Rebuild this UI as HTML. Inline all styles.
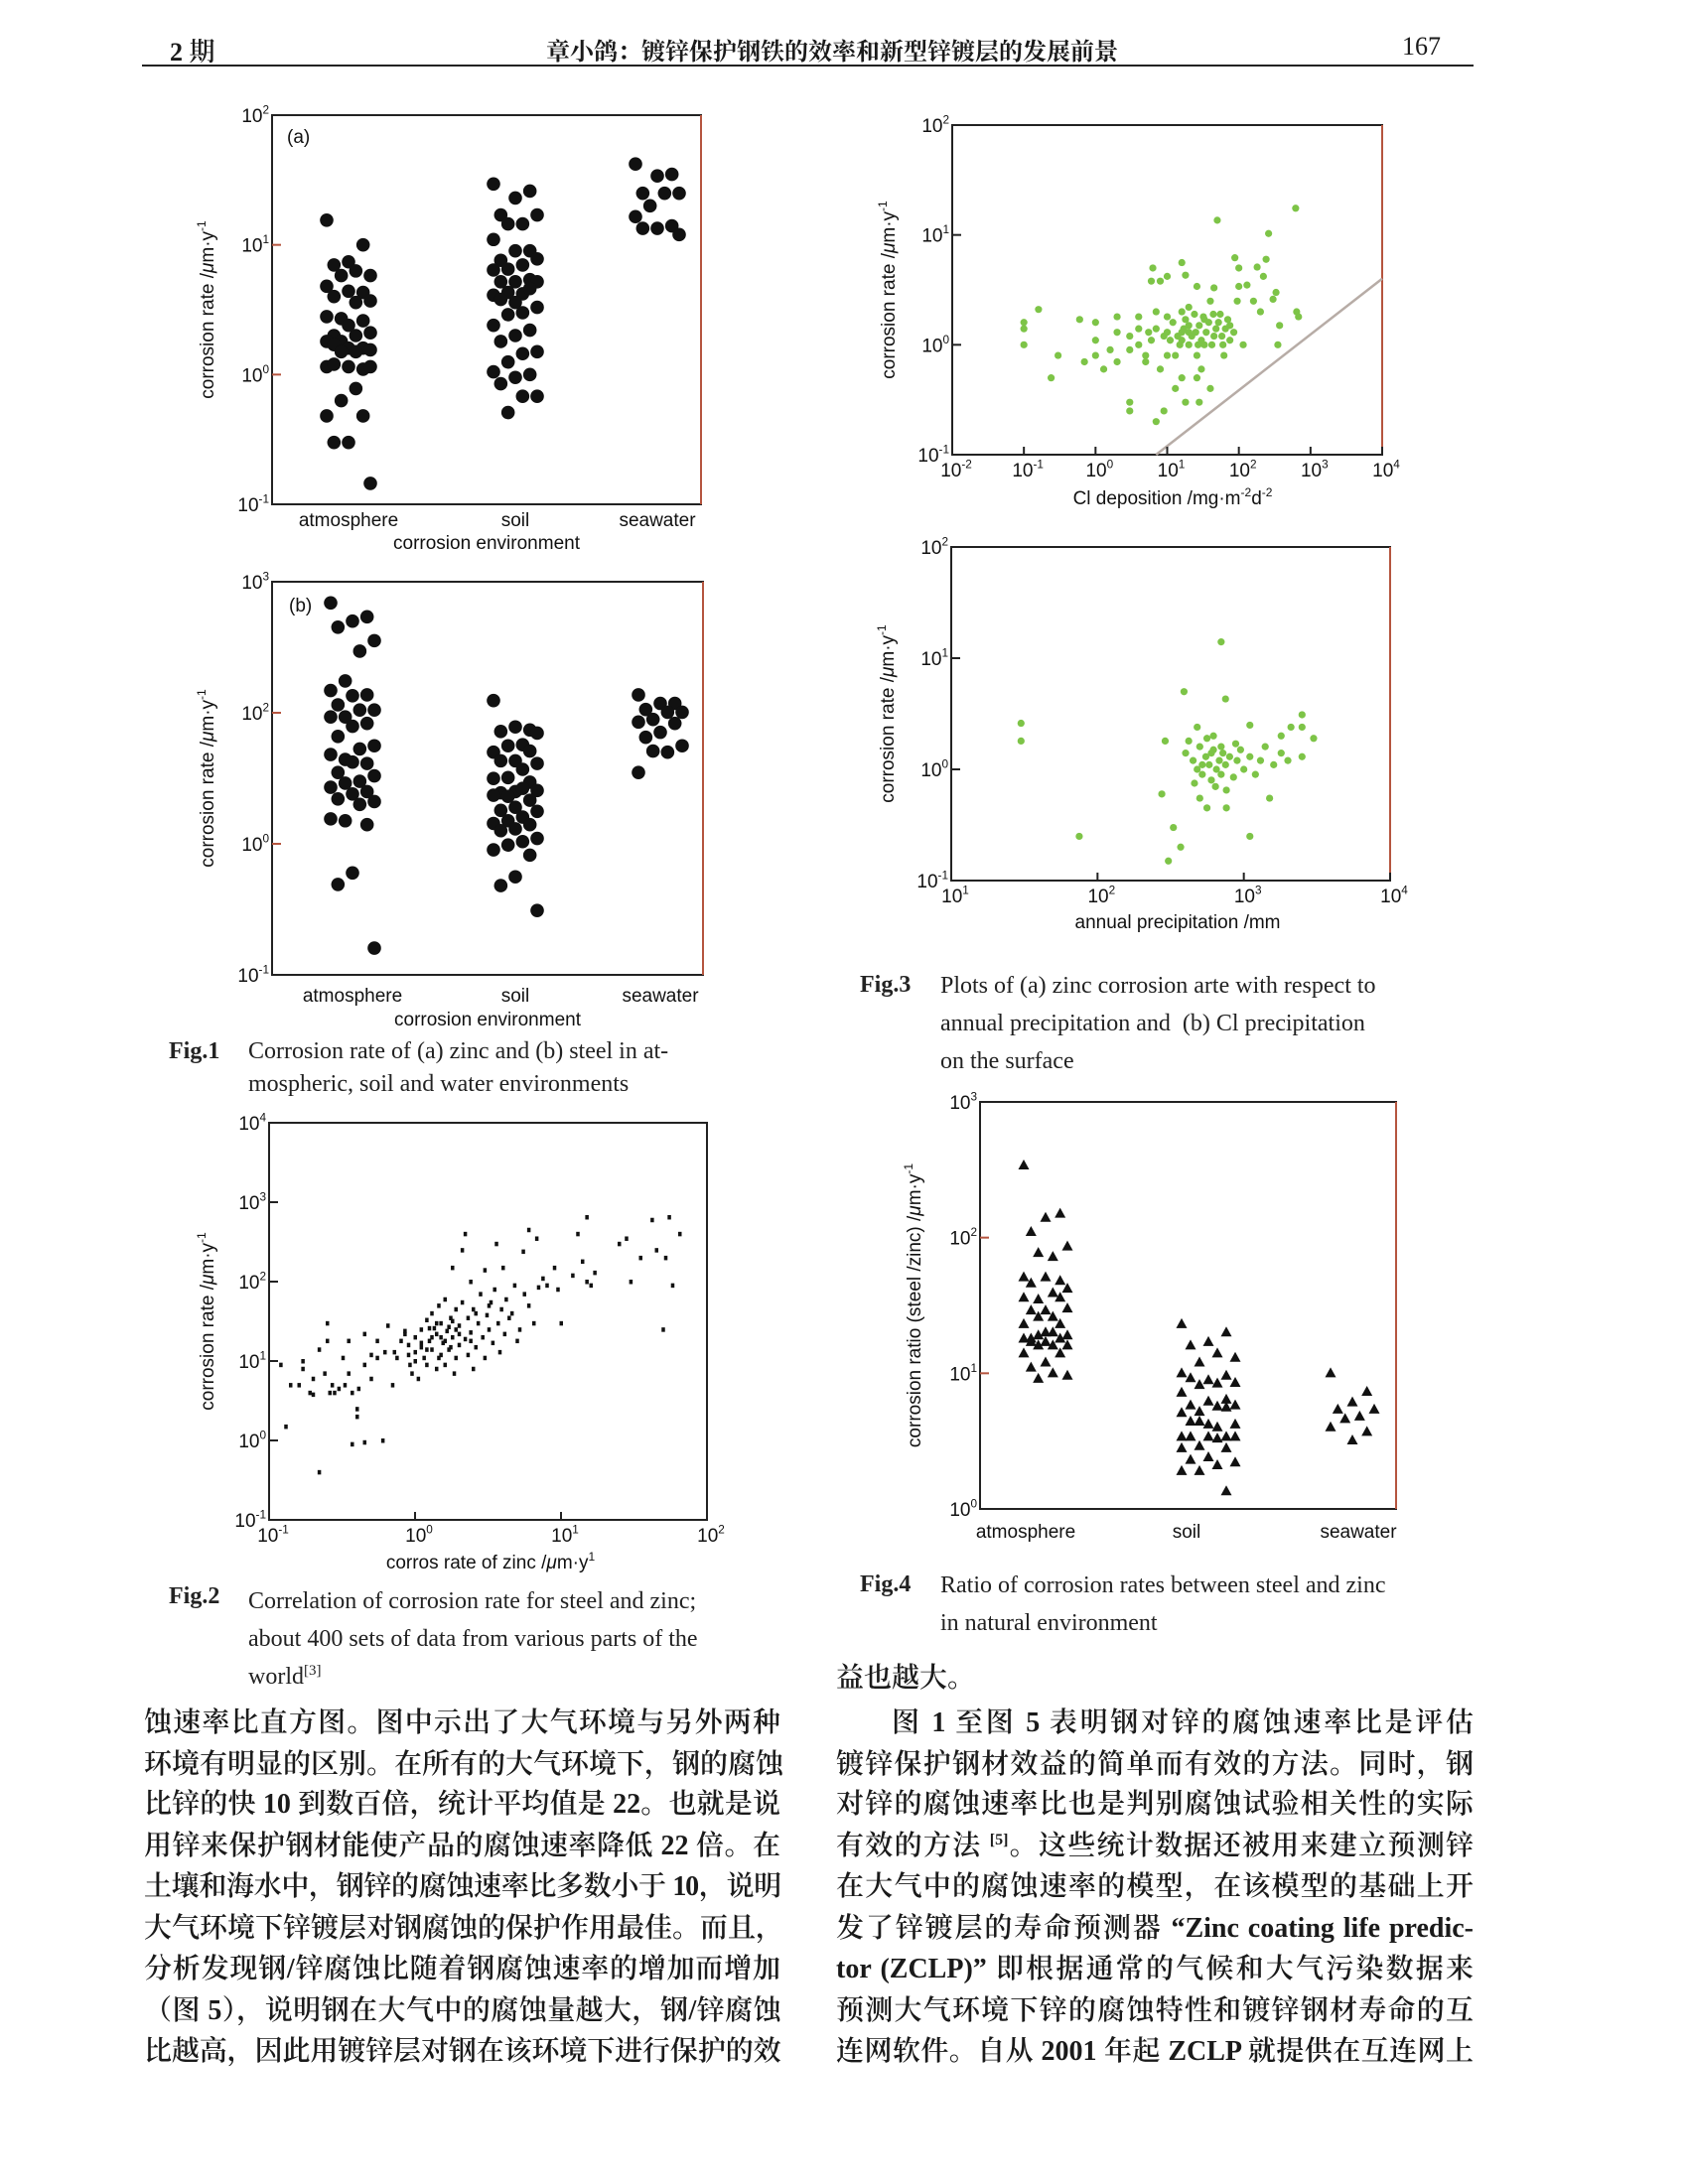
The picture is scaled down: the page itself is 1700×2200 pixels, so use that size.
<!DOCTYPE html>
<html><head><meta charset="utf-8">
<style>
html,body{margin:0;padding:0;background:#fff;}
body{width:1700px;height:2200px;position:relative;overflow:hidden;font-family:"Liberation Serif","Noto Serif CJK SC",serif;color:#1a1a1a;}
.ab{position:absolute;white-space:nowrap;}
.line{position:absolute;font-size:28px;line-height:32px;height:32px;text-align:justify;text-align-last:justify;white-space:nowrap;font-family:"Liberation Serif","Noto Serif CJK SC",serif;font-weight:600;}
.line sup,.ab sup{vertical-align:0;position:relative;top:-10px;line-height:0;}
.cap{position:absolute;font-size:24px;line-height:28px;white-space:nowrap;font-family:"Liberation Serif",serif;color:#222;}
svg text{font-family:"Liberation Sans",sans-serif;fill:#111;}
</style></head>
<body>
<div class="ab" style="left:171px;top:32px;font-size:26px;font-weight:600;">2 期</div>
<div class="ab" style="left:838px;top:32px;font-size:24px;transform:translateX(-50%);font-weight:bold;font-family:'Liberation Serif','Noto Serif CJK SC',serif;">章小鸽：镀锌保护钢铁的效率和新型锌镀层的发展前景</div>
<div class="ab" style="left:1412px;top:32px;font-size:26px;">167</div>
<div class="ab" style="left:143px;top:65px;width:1341px;height:2px;background:#222;"></div>

<svg id="charts" width="1700" height="2200" style="position:absolute;left:0;top:0;"></svg>

<div class="cap" style="left:170px;top:1045px;"><b>Fig.1</b></div>
<div class="cap" style="left:250px;top:1045px;">Corrosion rate of (a) zinc and (b) steel in at-<br><span style="line-height:38px">mospheric, soil and water environments</span></div>
<div class="cap" style="left:170px;top:1594px;"><b>Fig.2</b></div>
<div class="cap" style="left:250px;top:1594px;line-height:38px;">Correlation of corrosion rate for steel and zinc;<br>about 400 sets of data from various parts of the<br>world<sup style="font-size:15px;line-height:0">[3]</sup></div>
<div class="cap" style="left:866px;top:978px;"><b>Fig.3</b></div>
<div class="cap" style="left:947px;top:974px;line-height:38px;">Plots of (a) zinc corrosion arte with respect to<br>annual precipitation and &nbsp;(b) Cl precipitation<br>on the surface</div>
<div class="cap" style="left:866px;top:1582px;"><b>Fig.4</b></div>
<div class="cap" style="left:947px;top:1578px;line-height:38px;">Ratio of corrosion rates between steel and zinc<br>in natural environment</div>

<div>
<div class="line" style="left:145px;width:641px;top:1720px;">蚀速率比直方图。图中示出了大气环境与另外两种</div>
<div class="line" style="left:145px;width:641px;top:1762px;">环境有明显的区别。在所有的大气环境下，钢的腐蚀</div>
<div class="line" style="left:145px;width:641px;top:1802px;">比锌的快 10 到数百倍，统计平均值是 22。也就是说</div>
<div class="line" style="left:145px;width:641px;top:1844px;">用锌来保护钢材能使产品的腐蚀速率降低 22 倍。在</div>
<div class="line" style="left:145px;width:641px;top:1885px;letter-spacing:-1.2px;">土壤和海水中，钢锌的腐蚀速率比多数小于 10，说明</div>
<div class="line" style="left:145px;width:641px;top:1927px;">大气环境下锌镀层对钢腐蚀的保护作用最佳。而且，</div>
<div class="line" style="left:145px;width:641px;top:1968px;">分析发现钢/锌腐蚀比随着钢腐蚀速率的增加而增加</div>
<div class="line" style="left:145px;width:641px;top:2010px;letter-spacing:-0.6px;">（图 5），说明钢在大气中的腐蚀量越大，钢/锌腐蚀</div>
<div class="line" style="left:145px;width:641px;top:2051px;letter-spacing:-0.6px;">比越高，因此用镀锌层对钢在该环境下进行保护的效</div>
</div>
<div>
<div class="ab" style="left:842px;top:1675px;font-size:28px;line-height:32px;font-weight:600;">益也越大。</div>
<div class="line" style="left:898px;width:586px;top:1720px;">图 1 至图 5 表明钢对锌的腐蚀速率比是评估</div>
<div class="line" style="left:842px;width:642px;top:1762px;">镀锌保护钢材效益的简单而有效的方法。同时，钢</div>
<div class="line" style="left:842px;width:642px;top:1802px;">对锌的腐蚀速率比也是判别腐蚀试验相关性的实际</div>
<div class="line" style="left:842px;width:642px;top:1844px;">有效的方法 <sup style="font-size:16px">[5]</sup>。这些统计数据还被用来建立预测锌</div>
<div class="line" style="left:842px;width:642px;top:1885px;">在大气中的腐蚀速率的模型，在该模型的基础上开</div>
<div class="line" style="left:842px;width:642px;top:1927px;">发了锌镀层的寿命预测器 “Zinc coating life predic-</div>
<div class="line" style="left:842px;width:642px;top:1968px;">tor (ZCLP)” 即根据通常的气候和大气污染数据来</div>
<div class="line" style="left:842px;width:642px;top:2010px;">预测大气环境下锌的腐蚀特性和镀锌钢材寿命的互</div>
<div class="line" style="left:842px;width:642px;top:2051px;">连网软件。自从 2001 年起 ZCLP 就提供在互连网上</div>
</div>

<script>
// ---------- DATA ----------
const envCategories = ["atmosphere", "soil", "seawater"];
// Fig 1a zinc corrosion rate (µm/y)
const zincAtm = [15.5,10,7.4,7,5.8,6.3,5.8,4.8,4.3,4.4,4.0,3.7,3.6,2.7,2.8,2.6,2.4,2.0,2.1,2.0,1.8,1.8,1.6,1.6,1.7,1.55,1.5,1.5,1.15,1.1,1.15,1.2,1.15,0.78,0.63,0.48,0.48,0.3,0.3,0.145];
const zincSoil = [29.5,26,23,17,17,14.5,14.5,11,9,9,7.6,7.8,7,6.5,6.4,5.4,5.2,5.2,5.2,4.2,4.3,4.1,4.6,3.6,3.8,3.3,3.0,2.9,2.4,2.2,2.0,1.8,1.5,1.45,1.25,1.05,1.0,0.95,0.85,0.68,0.68,0.51];
const zincSea = [42,35,34,25,25,25,20,16.5,14,13.4,13.4,12];
const fig1aTickExp = [-1,0,1,2];
const fig1aTickLabels = ["-1","0","1","2"];
// Fig 1b steel (axis printed as in source)
const steelAtm = [690,540,500,450,355,295,175,148,137,135,115,105,105,93,93,83,79,66,56,53,44,48,41,42,35,33,30,29,27,25,24,22,21,20,15,15.5,14,6,4.9,1.6];
const steelSoil = [124,74,78,72,70,57,56,50,51,43,43,41,37,32,31.5,29.5,25,24.5,25.5,26.5,23,23.5,21.5,19,18,17.7,16,15,14.3,14,13,12.6,11,10.4,9.8,9,8.2,5.6,4.8,3.1];
const steelSea = [137,118,118,106,101,101,89,85,83,71,65,56,50,51,35];
const fig1bTickExp = [0,1,2,3];
const fig1bTickLabels = ["-1","0","2","3"];
// Fig 2 zinc (x) vs steel (y)
const fig2Zinc = [0.12,0.13,0.14,0.16,0.17,0.17,0.19,0.2,0.2,0.22,0.22,0.24,0.25,0.25,0.26,0.27,0.28,0.3,0.32,0.33,0.35,0.35,0.37,0.37,0.4,0.4,0.41,0.45,0.45,0.45,0.5,0.5,0.55,0.55,0.6,0.62,0.65,0.7,0.72,0.75,0.8,0.85,0.85,0.9,0.92,0.95,1.0,1.0,1.05,1.1,1.1,1.15,1.2,1.2,1.25,1.3,1.3,1.35,1.4,1.4,1.45,1.5,1.5,1.55,1.6,1.6,1.65,1.7,1.75,1.8,1.8,1.85,1.9,1.9,2.0,2.0,2.1,2.1,2.2,2.2,2.3,2.3,2.4,2.4,2.5,2.5,2.6,2.7,2.8,2.9,3.0,3.0,3.1,3.2,3.3,3.4,3.5,3.6,3.7,3.8,3.9,4.0,4.1,4.2,4.4,4.6,4.8,5.0,5.2,5.5,5.6,6.0,6.0,6.5,6.8,7.0,7.5,8,9,9.5,10,12,13,14,15,15,16,17,25,28,30,35,42,45,50,52,55,58,65,1.3,1.2,1.4,1.6,1.7,1.1,2.0,1.5,1.8,0.9,2.6,3.2,1.9,1.0,2.4,1.45,1.25,1.75];
const fig2Steel = [9,1.5,5,5,10,8,4,3.8,6,14,0.4,7,30,18,4,5,4,4.5,11,5,18,7,4,0.9,2,2.5,4.5,9,22,0.95,6,12,11,18,1.0,13,28,5,13,11,18,24,22,16,9,7,13,20,6,17,25,11,33,9,18,14,40,26,8,22,50,12,30,17,60,9,24,14,35,20,150,7,45,11,16,28,55,250,19,400,12,35,100,23,8,45,15,30,70,20,11,140,38,25,55,17,80,300,30,13,45,150,22,60,35,40,90,18,25,240,70,450,50,30,350,85,110,90,150,80,30,120,400,180,100,650,90,130,300,350,100,200,600,250,25,200,650,90,400,20,14,30,18,27,15,22,20,32,12,40,50,25,10,18,11,26,15];
const fig2XTickExp = [-1,0,1,2];
const fig2YTickExp = [-1,0,1,2,3,4];
// Fig 3a Cl deposition (x) vs zinc rate (y)
const clDep = [0.1,0.1,0.1,0.16,0.24,0.3,0.6,0.7,1,1,1,1.3,1.6,2,2,2,3,3,3,3,4,4,4,5,5,6,6.3,7,7,8,8,9,10,10,10,10,13,13,16,16,16,16,18,18,20,20,20,26,26,26,28,30,33,33,40,40,45,45,50,55,62,75,75,88,95,100,100,115,130,160,180,200,220,240,260,300,330,370,350,620,640,680,12,14,15,17,18,22,25,28,30,35,38,42,48,52,58,65,70,85,5.5,6,7,9,11,24,44,60,20,32,16,27];
const clRate = [1.6,1.4,1.0,2.1,0.5,0.8,1.7,0.7,1.6,1.1,0.8,0.6,0.9,1.8,1.3,0.7,1.2,0.9,0.3,0.25,1.8,1.4,1.0,0.8,0.7,3.8,5,2,0.2,3.8,0.6,0.25,4.2,1.8,1.3,0.8,0.4,0.8,5.6,2,1.1,0.5,4.3,0.3,2.2,1.5,1.0,3.4,0.8,0.5,0.3,0.6,1.7,1.0,2.5,0.4,3.3,1.2,13.6,1.9,0.8,1.5,1.1,6.2,2.5,5,3.4,1.0,3.5,2.5,5.1,2,4.2,6,10.3,2.6,3,1.5,1.0,17.5,2,1.8,1.6,1.2,1.0,1.4,1.7,1.2,1.3,1.5,1.1,1.3,1.6,1.0,1.4,1.6,1.2,1.4,1.7,1.3,1.3,1.1,1.4,1.2,1.1,1.9,1.9,1.0,1.3,1.8,1.3,1.0];
const clLineX = [7, 10000];
const clLineY = [0.1, 4];
const fig3aXTickExp = [-2,-1,0,1,2,3,4];
const fig3aYTickExp = [-1,0,1,2];
// Fig 3b precipitation (x) vs zinc rate (y)
const precip = [30,30,75,700,390,750,290,480,620,1100,1800,2100,2500,2500,3000,2500,275,330,370,305,500,560,760,1100,1500,400,450,480,500,520,550,580,600,620,650,680,700,720,750,800,850,900,950,1000,1100,1200,1300,1400,420,560,640,880,1600,460,760,520,600,700,1800,2000];
const precipRate = [2.6,1.8,0.25,14,5,4.3,1.8,2.4,2,2.5,2,2.4,3.1,2.4,1.9,1.3,0.6,0.3,0.2,0.15,0.55,0.45,0.45,0.25,0.55,1.4,1.2,1.0,1.6,0.9,1.3,1.1,0.8,1.5,1.0,1.2,0.9,1.4,1.1,1.3,0.85,1.2,1.5,1.0,1.3,0.9,1.2,1.6,1.8,1.9,0.7,1.7,1.1,0.75,0.65,1.1,1.4,1.6,1.4,1.2];
const fig3bXTickExp = [1,2,3,4];
const fig3bYTickExp = [-1,0,1,2];
// Fig 4 steel/zinc ratio
const ratioAtm = [340,150,140,110,86,72,77,51,48,51,46,42,39,35,36,36,29,29,30,26,26,23,23,20,18,19,20,19,18,18,17,17,16,16,16,14,14,12,11,9.6,10,9.1];
const ratioSoil = [23,20,17,16,13,14,12,10,9.6,8.9,9.2,8.5,8.4,8.2,7.2,6.4,6.2,5.8,5.8,5.7,5.2,5.1,5.6,4.2,4.4,4.2,4.0,4.4,3.4,3.4,3.4,3.4,3.4,3.3,2.9,2.8,2.8,2.4,2.3,2.2,2.1,1.9,1.9,1.35];
const ratioSea = [10,7.3,6.1,5.4,5.4,4.8,4.6,4.0,3.7,3.2];
const fig4TickExp = [0,1,2,3];

// ---------- HELPERS ----------
const NS = "http://www.w3.org/2000/svg";
const svg = document.getElementById("charts");
function mk(tag, attrs, parent){const e=document.createElementNS(NS,tag);for(const k in attrs)e.setAttribute(k,attrs[k]);(parent||svg).appendChild(e);return e;}
function logScale(e0,e1,r0,r1){return v=>r0+(Math.log10(v)-e0)/(e1-e0)*(r1-r0);}
function expScale(e0,e1,r0,r1){return e=>r0+(e-e0)/(e1-e0)*(r1-r0);}
function jit(i,w){return (((i*5)%7)-3)/3*w;}
function powLabel(g,x,y,exp,anchor,size){
  const t=mk("text",{x:x,y:y,"text-anchor":anchor,"font-size":size},g);
  t.appendChild(document.createTextNode("10"));
  const s=mk("tspan",{dy:-size*0.45,"font-size":size*0.62},t);
  s.textContent=exp;
  return t;
}
function frame(g,b,rightColor){
  mk("rect",{x:b.x0,y:b.y0,width:b.x1-b.x0,height:b.y1-b.y0,fill:"none",stroke:"#222","stroke-width":2},g);
  if(rightColor){mk("line",{x1:b.x1,y1:b.y0,x2:b.x1,y2:b.y1,stroke:rightColor,"stroke-width":2},g);
    mk("line",{x1:b.x0,y1:b.y0+2,x2:b.x0,y2:b.y1,stroke:"#222","stroke-width":2},g);}
}
function yAxis(g,b,exps,labels,sc,tickColor){
  exps.forEach((e,i)=>{const y=sc(e);
    const tk=mk("line",{x1:b.x0,y1:y,x2:b.x0+(i===0||i===exps.length-1?0:9),y2:y,stroke:tickColor||"#222","stroke-width":2},g);
    
    
    const lb=powLabel(g,b.x0-3,y+7,labels[i],"end",19);
    
    
  });
}
function xAxis(g,b,exps,sc){
  exps.forEach(e=>{const x=sc(e);
    const tk=mk("line",{x1:x,y1:b.y1,x2:x,y2:b.y1-8,stroke:"#222","stroke-width":2},g);
    
    
    const lb=powLabel(g,x+4,b.y1+22,String(e),"middle",19);
    
    
  });
}
function text(g,x,y,s,size,anchor,rot){
  const t=mk("text",{x:x,y:y,"font-size":size,"text-anchor":anchor||"middle"},g);
  if(rot)t.setAttribute("transform",`rotate(-90 ${x} ${y})`);
  t.textContent=s;return t;
}
function yTitle(g,x,y,prefix){
  const t=mk("text",{x:x,y:y,"font-size":19,"text-anchor":"middle",transform:`rotate(-90 ${x} ${y})`},g);
  t.appendChild(document.createTextNode(prefix+" /"));
  const m=mk("tspan",{"font-style":"italic"},t);m.textContent="μ";
  t.appendChild(document.createTextNode("m·y"));
  const s=mk("tspan",{dy:-8,"font-size":12},t);s.textContent="-1";
  
  
  return t;
}

// ---------- FIG 1 (jitter strip) ----------
function stripChart(name,b,exps,labels,catX,series,catLabelY,tag,titleY,tagPos){
  const g=mk("g",{});
  
  
  frame(g,b,"#b5553f");
  const ys=expScale(exps[0],exps[exps.length-1],b.y1,b.y0);
  yAxis(g,b,exps,labels,ys,"#b5553f");
  series.forEach((vals,ci)=>{
    vals.forEach((v,i)=>{
      const c=mk("circle",{cx:catX[ci]+jit(i,22),cy:ys(Math.log10(v)),r:6.8,fill:"#111"},g);
      
      
    });
    const l=text(g,catX[ci],catLabelY,envCategories[ci],19);
    
    
  });
  const xt=text(g,(b.x0+b.x1)/2,titleY,"corrosion environment",19);
  
  
  const tg=text(g,tagPos[0],tagPos[1],tag,19,"start");
  
  
  yTitle(g,215,(b.y0+b.y1)/2,"corrosion rate");
}
stripChart("fig1a-zinc-chart",{x0:274,y0:116,x1:706,y1:508},fig1aTickExp,fig1aTickLabels,[351,519,662],[zincAtm,zincSoil,zincSea],530,"(a)",553,[289,144]);
stripChart("fig1b-steel-chart",{x0:274,y0:586,x1:708,y1:982},fig1bTickExp,fig1bTickLabels,[355,519,665],[steelAtm,steelSoil,steelSea],1009,"(b)",1033,[291,616]);

// ---------- FIG 2 ----------
(function(){
  const b={x0:271,y0:1131,x1:712,y1:1531};
  const g=mk("g",{});
  
  
  frame(g,b);
  const xs=logScale(-1,2,b.x0,b.x1), ys=logScale(-1,4,b.y1,b.y0);
  yAxis(g,b,fig2YTickExp,fig2YTickExp.map(String),expScale(-1,4,b.y1,b.y0));
  xAxis(g,b,fig2XTickExp,expScale(-1,2,b.x0,b.x1));
  fig2Zinc.forEach((z,i)=>{
    const r=mk("rect",{x:xs(z)-1.5,y:ys(fig2Steel[i])-2,width:3.5,height:4.5,fill:"#111"},g);
    
    
  });
  const t=mk("text",{x:494,y:1580,"font-size":19,"text-anchor":"middle"},g);
  
  
  t.appendChild(document.createTextNode("corros rate of zinc /"));
  const m=mk("tspan",{"font-style":"italic"},t);m.textContent="μ";
  t.appendChild(document.createTextNode("m·y"));
  const s=mk("tspan",{dy:-8,"font-size":12},t);s.textContent="1";
  yTitle(g,215,1331,"corrosion rate");
})();

// ---------- FIG 3 ----------
function greenScatter(name,b,xe,ye,xv,yv,xTitle,titleY,titleX,line){
  const g=mk("g",{});
  
  
  frame(g,b,"#b5553f");
  const xs=logScale(xe[0],xe[xe.length-1],b.x0,b.x1), ys=logScale(ye[0],ye[ye.length-1],b.y1,b.y0);
  if(line){
    const ln=mk("line",{x1:xs(line[0][0]),y1:ys(line[1][0]),x2:xs(line[0][1]),y2:ys(line[1][1]),stroke:"#b7aca6","stroke-width":2.5},g);
    
    
  }
  yAxis(g,b,ye,ye.map(String),expScale(ye[0],ye[ye.length-1],b.y1,b.y0));
  xAxis(g,b,xe,expScale(xe[0],xe[xe.length-1],b.x0,b.x1));
  xv.forEach((x,i)=>{
    const c=mk("circle",{cx:xs(x),cy:ys(yv[i]),r:3.6,fill:"#7dc447"},g);
    
    
  });
  const t=text(g,titleX,titleY,"",19);
  
  
  xTitle(t);
  yTitle(g,b.x0-58,(b.y0+b.y1)/2,"corrosion rate");
}
greenScatter("fig3a-cl-deposition-chart",{x0:959,y0:126,x1:1392,y1:458},fig3aXTickExp,fig3aYTickExp,clDep,clRate,
  t=>{t.appendChild(document.createTextNode("Cl deposition /mg·m"));const a=mk("tspan",{dy:-8,"font-size":12},t);a.textContent="-2";const c=mk("tspan",{dy:8},t);c.textContent="d";const d=mk("tspan",{dy:-8,"font-size":12},t);d.textContent="-2";},
  508,1181,[clLineX,clLineY]);
greenScatter("fig3b-precipitation-chart",{x0:958,y0:551,x1:1400,y1:887},fig3bXTickExp,fig3bYTickExp,precip,precipRate,
  t=>{t.textContent="annual precipitation /mm";},935,1186,null);

// ---------- FIG 4 ----------
(function(){
  const b={x0:987,y0:1110,x1:1406,y1:1520};
  const g=mk("g",{});
  
  
  frame(g,b,"#b5553f");
  const ys=logScale(0,3,b.y1,b.y0);
  yAxis(g,b,fig4TickExp,fig4TickExp.map(String),expScale(0,3,b.y1,b.y0),"#b5553f");
  const catX=[1053,1217,1362];
  [ratioAtm,ratioSoil,ratioSea].forEach((vals,ci)=>{
    vals.forEach((v,i)=>{
      const x=catX[ci]+jit(i,ci===1?27:22), y=ys(v);
      const p=mk("polygon",{points:`${x},${y-6} ${x-5.5},${y+4} ${x+5.5},${y+4}`,fill:"#111"},g);
      
      
    });
    const l=text(g,[1033,1195,1368][ci],1549,envCategories[ci],19);
    
    
  });
  yTitle(g,927,1315,"corrosion ratio (steel /zinc)");
})();
</script>
</body></html>
